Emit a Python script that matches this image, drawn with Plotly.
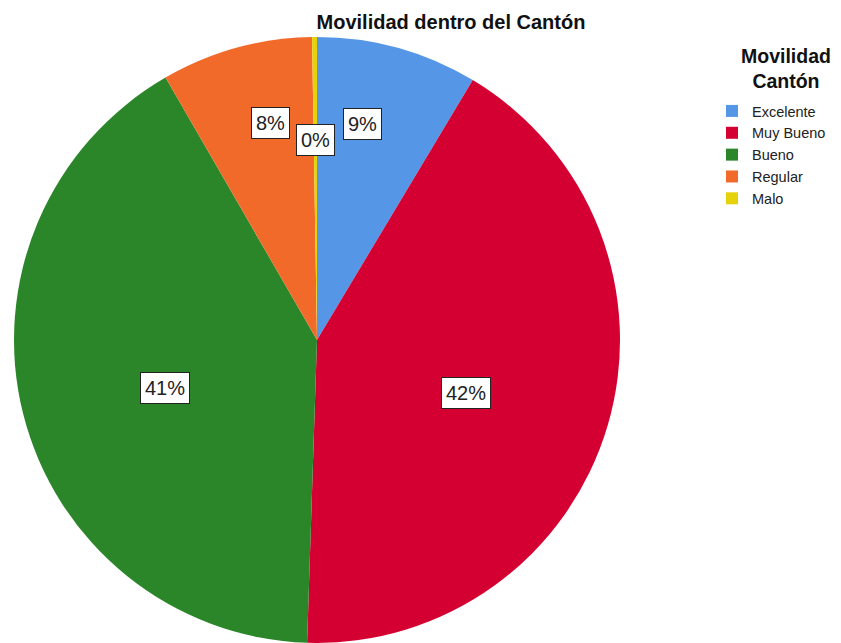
import math
import plotly.graph_objects as go

# Survey responses: mobility within the canton
categories = ["Excelente", "Muy Bueno", "Bueno", "Regular", "Malo"]
counts = [33, 161, 158, 31, 1]
colors = ["#5597E6", "#D50032", "#2A8629", "#F26A2A", "#E6D20A"]

W, H = 841, 643
FONT = "Liberation Sans, Arial"

# pie placement (paper fractions)
dom_x = [14 / W, 620 / W]
dom_y = [0.0, 1 - 37 / H]

fig = go.Figure(
    go.Pie(
        labels=categories,
        values=counts,
        marker=dict(colors=colors, line=dict(width=0)),
        sort=False,
        direction="clockwise",
        rotation=0,
        textinfo="none",
        hoverinfo="label+percent",
        domain=dict(x=dom_x, y=dom_y),
    )
)

# percentage labels in boxed annotations, placed around each slice's mid-angle
# (radius fraction, angular nudge in degrees)
label_place = {
    "Excelente": (0.728, -3.6),
    "Muy Bueno": (0.522, 3.2),
    "Bueno": (0.526, -3.4),
    "Regular": (0.733, 3.3),
    "Malo": (0.66, -0.1),
}

total = sum(counts)
cx = (dom_x[0] + dom_x[1]) / 2 * W
cy = (1 - (dom_y[0] + dom_y[1]) / 2) * H
radius = min((dom_x[1] - dom_x[0]) * W, (dom_y[1] - dom_y[0]) * H) / 2

cum = 0
for cat, v in zip(categories, counts):
    frac = v / total
    rf, nudge = label_place[cat]
    mid = (cum + frac / 2) * 2 * math.pi + math.radians(nudge)
    cum += frac
    r = radius * rf
    px = cx + r * math.sin(mid)
    py = cy - r * math.cos(mid)
    fig.add_annotation(
        x=px / W, y=1 - py / H, xref="paper", yref="paper",
        text=f"{round(frac * 100)}%", showarrow=False,
        font=dict(family=FONT, size=20, color="#222222"),
        bgcolor="white", bordercolor="#222222", borderwidth=1, borderpad=4,
        xanchor="center", yanchor="middle",
    )

# legend heading, centred over the legend entries
fig.add_annotation(
    x=786 / W, y=1 - 68.5 / H, xref="paper", yref="paper",
    text="<b>Movilidad<br>Cantón</b>", showarrow=False, align="center",
    font=dict(family=FONT, size=19.5, color="#111111"),
    xanchor="center", yanchor="middle",
)

fig.update_layout(
    width=W, height=H,
    margin=dict(l=0, r=0, t=0, b=0),
    paper_bgcolor="white",
    font=dict(family=FONT, color="#222222"),
    title=dict(
        text="<b>Movilidad dentro del Cantón</b>",
        x=451 / W, xanchor="center", y=1 - 22 / H, yanchor="middle",
        font=dict(size=20, color="#111111"),
    ),
    legend=dict(
        x=712 / W, xanchor="left", y=1 - 95 / H, yanchor="top",
        font=dict(size=14.5, color="#222222"),
        bgcolor="rgba(0,0,0,0)",
        traceorder="normal",
    ),
)

fig.write_html("out.html")
